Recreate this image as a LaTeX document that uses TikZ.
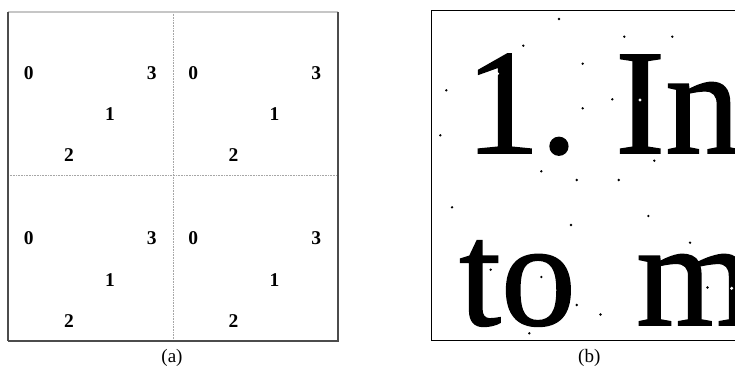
\documentclass[tikz,border=0pt]{standalone}
\usepackage{fontspec}
\setmainfont{Liberation Serif}
\newfontface\bigface{Liberation Serif}[FakeBold=1]
\begin{document}
\begin{tikzpicture}[x=1pt,y=-1pt,
  digit/.style={font=\fontsize{19.5}{20}\selectfont\bfseries, inner sep=0pt},
  caption/.style={font=\fontsize{19}{20}\selectfont, inner sep=0pt},
  bigtext/.style={font=\fontsize{150}{160}\bigface, inner sep=0pt, anchor=base west, text depth=0pt},
  blackdot/.style={fill=black, draw=none},
  whitedot/.style={fill=white, draw=none},
  divider/.style={gray!70, line width=0.8pt, dash pattern=on 0.8pt off 0.8pt},
  lightframe/.style={gray!45, line width=1.2pt},
  darkframe/.style={black!70, line width=1.6pt},
  bframe/.style={black, line width=1.3pt}]
\useasboundingbox (0,0) rectangle (735,369);
% ---------- panel (a) ----------
\coordinate (aTL) at (8,12);
\coordinate (aTR) at (338,12);
\coordinate (aBL) at (8,341);
\coordinate (aBR) at (338,341);
\coordinate (vT) at (173,12);
\coordinate (vB) at (173,341);
\coordinate (hL) at (8,175.5);
\coordinate (hR) at (338,175.5);
\draw[divider] (vT) -- (vB);
\draw[divider] (hL) -- (hR);
\draw[lightframe] (aTL) -- (aTR);
\draw[darkframe] (aTL) -- (aBL);
\draw[darkframe] (aTR) -- (aBR) -- (aBL);
\foreach \q/\dx/\dy in {1/0/0, 2/164.6/0, 3/0/165.6, 4/164.6/165.6}{
  \node[digit] (d\q-0) at (28.7+\dx,72.7+\dy) {0};
  \node[digit] (d\q-3) at (151.7+\dx,72.7+\dy) {3};
  \node[digit] (d\q-1) at (110+\dx,114+\dy) {1};
  \node[digit] (d\q-2) at (69+\dx,155+\dy) {2};
}
\node[caption] (capa) at (172,358) {(a)};
% ---------- panel (b) ----------
\coordinate (bTL) at (431.7,10.7);
\coordinate (bTR) at (735,10.7);
\coordinate (bBL) at (431.7,340.7);
\coordinate (bBR) at (735,340.7);
\begin{scope}
\clip (bTL) rectangle (bBR);
\node[bigtext] (one) at (465,153) {1.};
\node[bigtext] (inw) at (615,153) {In};
\node[bigtext] (tow) at (459,325) {to};
\node[bigtext] (mw) at (636,325) {m};
\foreach \x/\y in {559/19, 523.3/45.7, 624.3/36.7, 672.3/36.7, 582.7/63.7,
  446.3/90.3, 612.3/99.3, 582.7/108.3, 440.3/135.3, 654.3/160.7, 541.3/171.3,
  576.7/180, 618.7/180, 452/207.3, 648.3/216, 571/225, 690/242.7, 490.7/269.7,
  541.3/277, 707.5/287.5, 576.7/305, 600.5/314.5, 529.3/333.3}
  \fill[blackdot] (\x,\y) circle (1.3);
\foreach \x/\y in {497.5/73.7, 640/100, 731.7/288.3}
  \fill[whitedot] (\x,\y) circle (1.7);
\end{scope}
\draw[bframe] (bTR) -- (bTL) -- (bBL) -- (bBR);
\node[caption] (capb) at (589.3,358) {(b)};
\end{tikzpicture}
\end{document}
